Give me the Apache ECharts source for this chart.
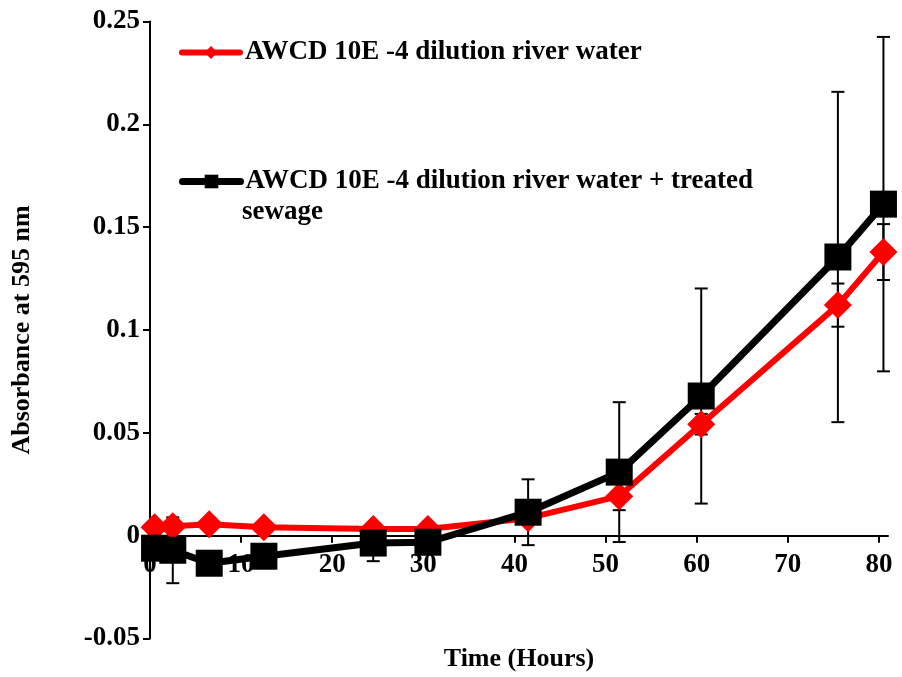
<!DOCTYPE html>
<html>
<head>
<meta charset="utf-8">
<script src="https://cdn.jsdelivr.net/npm/echarts@6/dist/echarts.min.js"></script>
<style>
  html, body { margin: 0; padding: 0; background: #fff; }
  #chart { width: 902px; height: 677px; }
</style>
</head>
<body>
<div id="chart"></div>
<script>
// Sampling times (hours)
const hours = [0.5, 2.5, 6.5, 12.5, 24.5, 30.5, 41.5, 51.5, 60.5, 75.5, 80.5];

// AWCD, river water alone
const riverWater = [0.0041, 0.0046, 0.0056, 0.0041, 0.0032, 0.0032, 0.0085, 0.0192, 0.0542, 0.1121, 0.1379];
const riverWaterErr = [0.002, 0.002, 0.002, 0.002, 0.002, 0.002, 0.003, 0.0068, 0.005, 0.0105, 0.0136];

// AWCD, river water mixed with treated sewage
const riverSewage = [-0.0061, -0.0071, -0.0134, -0.0100, -0.0036, -0.0032, 0.0114, 0.0309, 0.0679, 0.1355, 0.1612];
const riverSewageErr = [0.004, 0.016, 0.004, 0.005, 0.0088, 0.004, 0.016, 0.034, 0.0523, 0.0803, 0.0813];

const xTicks = [0, 10, 20, 30, 40, 50, 60, 70, 80];

const seriesNames = [
  'AWCD 10E -4 dilution river water',
  'AWCD 10E -4 dilution river water + treated'
];
const wrapLine = 'sewage';

const FONT = "'Liberation Serif', 'Times New Roman', serif";
const X_MIN = 0, X_MAX = 81;
const Y_MIN = -0.05, Y_MAX = 0.25;

const pairs = (xs, ys) => xs.map((x, i) => [x, ys[i]]);
const errRows = (xs, ys, es) => xs.map((x, i) => [x, ys[i] - es[i], ys[i] + es[i]]);

// Vertical error bar with caps
function errorBarRenderer(params, api) {
  const x = api.value(0);
  const lo = api.coord([x, api.value(1)]);
  const hi = api.coord([x, api.value(2)]);
  const half = 6.5;
  const style = { stroke: '#000', lineWidth: 2, fill: null };
  return {
    type: 'group',
    children: [
      { type: 'line', shape: { x1: lo[0], y1: lo[1], x2: hi[0], y2: hi[1] }, style },
      { type: 'line', shape: { x1: lo[0] - half, y1: lo[1], x2: lo[0] + half, y2: lo[1] }, style },
      { type: 'line', shape: { x1: hi[0] - half, y1: hi[1], x2: hi[0] + half, y2: hi[1] }, style }
    ]
  };
}

const chart = echarts.init(document.getElementById('chart'), null, { renderer: 'canvas' });

const labelText = { fontFamily: FONT, fontWeight: 'bold', fontSize: 27, color: '#000' };
const nameText = { fontFamily: FONT, fontWeight: 'bold', fontSize: 26, color: '#000' };

// The plot area spans -0.05..0.25; the second grid ends at the zero line so
// the time axis labels sit directly under the y = 0 crossing.
const PLOT_TOP = 21.5, PLOT_BOTTOM = 38.5;
const zeroFromBottom = PLOT_BOTTOM + (0 - Y_MIN) / (Y_MAX - Y_MIN) * (677 - PLOT_TOP - PLOT_BOTTOM);

chart.setOption({
  animation: false,
  backgroundColor: '#fff',
  grid: [
    { left: 150, right: 14, top: PLOT_TOP, bottom: PLOT_BOTTOM, containLabel: false, outerBoundsMode: 'none' },
    { left: 150, right: 14, top: PLOT_TOP, bottom: zeroFromBottom, containLabel: false, outerBoundsMode: 'none' }
  ],
  legend: [
    {
      data: [seriesNames[0]],
      left: 179, top: 39, padding: 0,
      itemWidth: 58, itemHeight: 16,
      textStyle: labelText,
      lineStyle: { width: 6, cap: 'round' },
      selectedMode: false
    },
    {
      data: [seriesNames[1]],
      left: 179, top: 168, padding: 0,
      itemWidth: 58, itemHeight: 17,
      textStyle: labelText,
      lineStyle: { width: 7, cap: 'round' },
      selectedMode: false
    }
  ],
  graphic: [
    {
      type: 'text',
      left: 242, top: 199,
      style: { text: wrapLine, font: 'bold 27px ' + FONT, fill: '#000' }
    }
  ],
  xAxis: [
    {
      gridIndex: 0,
      type: 'value',
      min: X_MIN, max: X_MAX,
      axisLine: { onZero: true, lineStyle: { color: '#000', width: 2 } },
      axisTick: { show: false },
      axisLabel: { show: false },
      splitLine: { show: false }
    },
    {
      gridIndex: 1,
      type: 'value',
      min: X_MIN, max: X_MAX, interval: 10,
      name: 'Time (Hours)',
      nameLocation: 'middle',
      nameGap: 111,
      nameTextStyle: nameText,
      axisLine: { show: false, onZero: false },
      axisTick: { show: true, length: 7, lineStyle: { color: '#000', width: 2 }, customValues: xTicks },
      axisLabel: Object.assign({ margin: 16, customValues: xTicks }, labelText),
      splitLine: { show: false }
    }
  ],
  yAxis: [
    {
      gridIndex: 0,
      type: 'value',
      min: Y_MIN, max: Y_MAX, interval: 0.05,
      name: 'Absorbance at 595 nm',
      nameLocation: 'middle',
      nameGap: 115,
      nameTextStyle: nameText,
      axisLine: { onZero: false, lineStyle: { color: '#000', width: 2 } },
      axisTick: { show: true, length: 7, lineStyle: { color: '#000', width: 2 } },
      axisLabel: Object.assign({ margin: 10, formatter: v => String(Math.round(v * 100) / 100) }, labelText),
      splitLine: { show: false }
    },
    {
      gridIndex: 1,
      type: 'value',
      min: 0, max: Y_MAX,
      show: false
    }
  ],
  series: [
    {
      type: 'custom',
      name: 'sewage-err',
      renderItem: errorBarRenderer,
      data: errRows(hours, riverSewage, riverSewageErr),
      encode: { x: 0, y: [1, 2] },
      z: 1, silent: true
    },
    {
      type: 'custom',
      name: 'river-err',
      renderItem: errorBarRenderer,
      data: errRows(hours, riverWater, riverWaterErr),
      encode: { x: 0, y: [1, 2] },
      z: 1, silent: true
    },
    {
      type: 'line',
      name: seriesNames[0],
      data: pairs(hours, riverWater),
      symbol: 'diamond',
      symbolSize: 28,
      showAllSymbol: true,
      lineStyle: { color: '#ff0000', width: 6 },
      itemStyle: { color: '#ff0000' },
      z: 2
    },
    {
      type: 'line',
      name: seriesNames[1],
      data: pairs(hours, riverSewage),
      symbol: 'rect',
      symbolSize: 27,
      showAllSymbol: true,
      lineStyle: { color: '#000', width: 7 },
      itemStyle: { color: '#000' },
      z: 3
    }
  ]
});
</script>
</body>
</html>
